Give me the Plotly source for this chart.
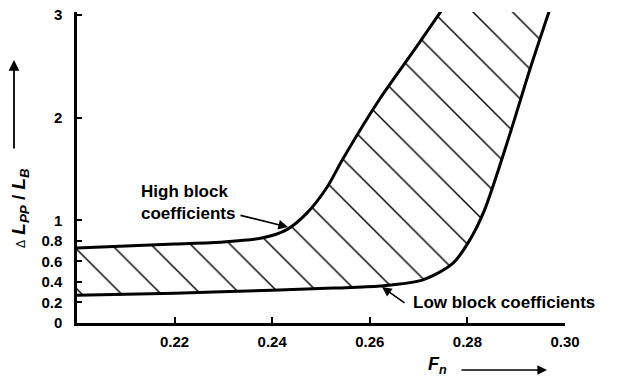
import plotly.graph_objects as go

# Upper boundary: high block coefficients
high_x = [0.200, 0.210, 0.220, 0.230, 0.2381, 0.243, 0.2471, 0.2512, 0.2545, 0.262, 0.2697, 0.2755]
high_y = [0.73, 0.75, 0.77, 0.79, 0.83, 0.91, 1.07, 1.32, 1.60, 2.18, 2.70, 3.10]

# Lower boundary: low block coefficients
low_x = [0.200, 0.220, 0.240, 0.2525, 0.2621, 0.2709, 0.277, 0.2805, 0.2835, 0.2887, 0.2928, 0.2972]
low_y = [0.27, 0.29, 0.32, 0.34, 0.36, 0.42, 0.58, 0.81, 1.10, 1.84, 2.47, 3.10]

x_ticks = [0.22, 0.24, 0.26, 0.28, 0.30]
x_labels = ["0.22", "0.24", "0.26", "0.28", "0.30"]
y_ticks = [0, 0.2, 0.4, 0.6, 0.8, 1, 2, 3]
y_labels = ["0", "0.2", "0.4", "0.6", "0.8", "1", "2", "3"]

FONT = "Liberation Sans"

fig = go.Figure()
fig.add_trace(go.Scatter(
    x=low_x, y=low_y, mode="lines",
    line=dict(color="black", width=3, shape="spline", smoothing=0.8),
    showlegend=False, hoverinfo="skip"))
fig.add_trace(go.Scatter(
    x=high_x, y=high_y, mode="lines", fill="tonexty",
    fillpattern=dict(shape="\\", size=28, solidity=0.05,
                     fgcolor="black", bgcolor="rgba(0,0,0,0)", fillmode="replace"),
    line=dict(color="black", width=3, shape="spline", smoothing=0.8),
    showlegend=False, hoverinfo="skip"))

W, H = 622, 381
PL, PR, PT, PB = 77, 565, 12, 323   # plot area in page pixels
L, R, T, B = PL, W - PR, PT, H - PB
pw, ph = PR - PL, PB - PT

def px(xp):
    return (xp - PL) / pw

def py(yp):
    return (PB - yp) / ph

ann_font = dict(family=FONT, size=17, color="black", weight="bold")
tick_font = dict(family=FONT, size=15, color="black", weight="bold")

fig.update_layout(
    width=W, height=H,
    margin=dict(l=L, r=R, t=T, b=B, autoexpand=False),
    paper_bgcolor="white", plot_bgcolor="white",
    xaxis=dict(range=[0.2, 0.3], tickvals=x_ticks, ticktext=x_labels,
               showline=True, linecolor="black", linewidth=2.5,
               ticks="inside", ticklen=6, tickwidth=2, tickcolor="black",
               showgrid=False, zeroline=False, ticklabelstandoff=3,
               ticklabeloverflow="allow",
               automargin=False, tickfont=tick_font),
    yaxis=dict(range=[0, 3.03], tickvals=y_ticks, ticktext=y_labels,
               showline=True, linecolor="black", linewidth=2.5,
               ticks="inside", ticklen=5, tickwidth=2, tickcolor="black",
               showgrid=False, zeroline=False, ticklabelstandoff=9,
               ticklabeloverflow="allow",
               automargin=False, tickfont=tick_font),
    annotations=[
        dict(xref="paper", yref="paper", x=px(139), y=py(202), xanchor="left", yanchor="middle",
             text="High block<br>coefficients", showarrow=False, align="left", font=ann_font),
        dict(xref="paper", yref="paper", x=px(288), y=py(227), ax=-49, ay=-12, text="",
             showarrow=True, arrowhead=2, arrowsize=1.2, arrowwidth=1.6, arrowcolor="black"),
        dict(xref="paper", yref="paper", x=px(411), y=py(302), xanchor="left", yanchor="middle",
             text="Low block coefficients", showarrow=False, align="left", font=ann_font),
        dict(xref="paper", yref="paper", x=px(382), y=py(287), ax=24, ay=17, text="",
             showarrow=True, arrowhead=2, arrowsize=1.2, arrowwidth=1.6, arrowcolor="black"),
        dict(xref="paper", yref="paper", x=px(20), y=py(208), textangle=-90,
             xanchor="center", yanchor="middle", showarrow=False,
             text="<span style='font-size:12px'>Δ</span> <b><i>L</i></b><sub><b><i>PP</i></b></sub> <b>/</b> <b><i>L</i></b><sub><b><i>B</i></b></sub>",
             font=dict(family=FONT, size=19, color="black")),
        dict(xref="paper", yref="paper", x=px(14), y=py(60), ax=0, ay=90, text="",
             showarrow=True, arrowhead=2, arrowsize=1.2, arrowwidth=1.8, arrowcolor="black"),
        dict(xref="paper", yref="paper", x=px(437), y=py(365), xanchor="center", yanchor="middle",
             showarrow=False, text="<b><i>F</i></b><sub><b><i>n</i></b></sub>",
             font=dict(family=FONT, size=18, color="black")),
        dict(xref="paper", yref="paper", x=px(547), y=py(370), ax=-87, ay=0, text="",
             showarrow=True, arrowhead=2, arrowsize=1.2, arrowwidth=1.6, arrowcolor="black"),
    ],
)

fig.write_html("out.html", config={"displayModeBar": False},
               post_script="document.body.style.margin='0px';")
